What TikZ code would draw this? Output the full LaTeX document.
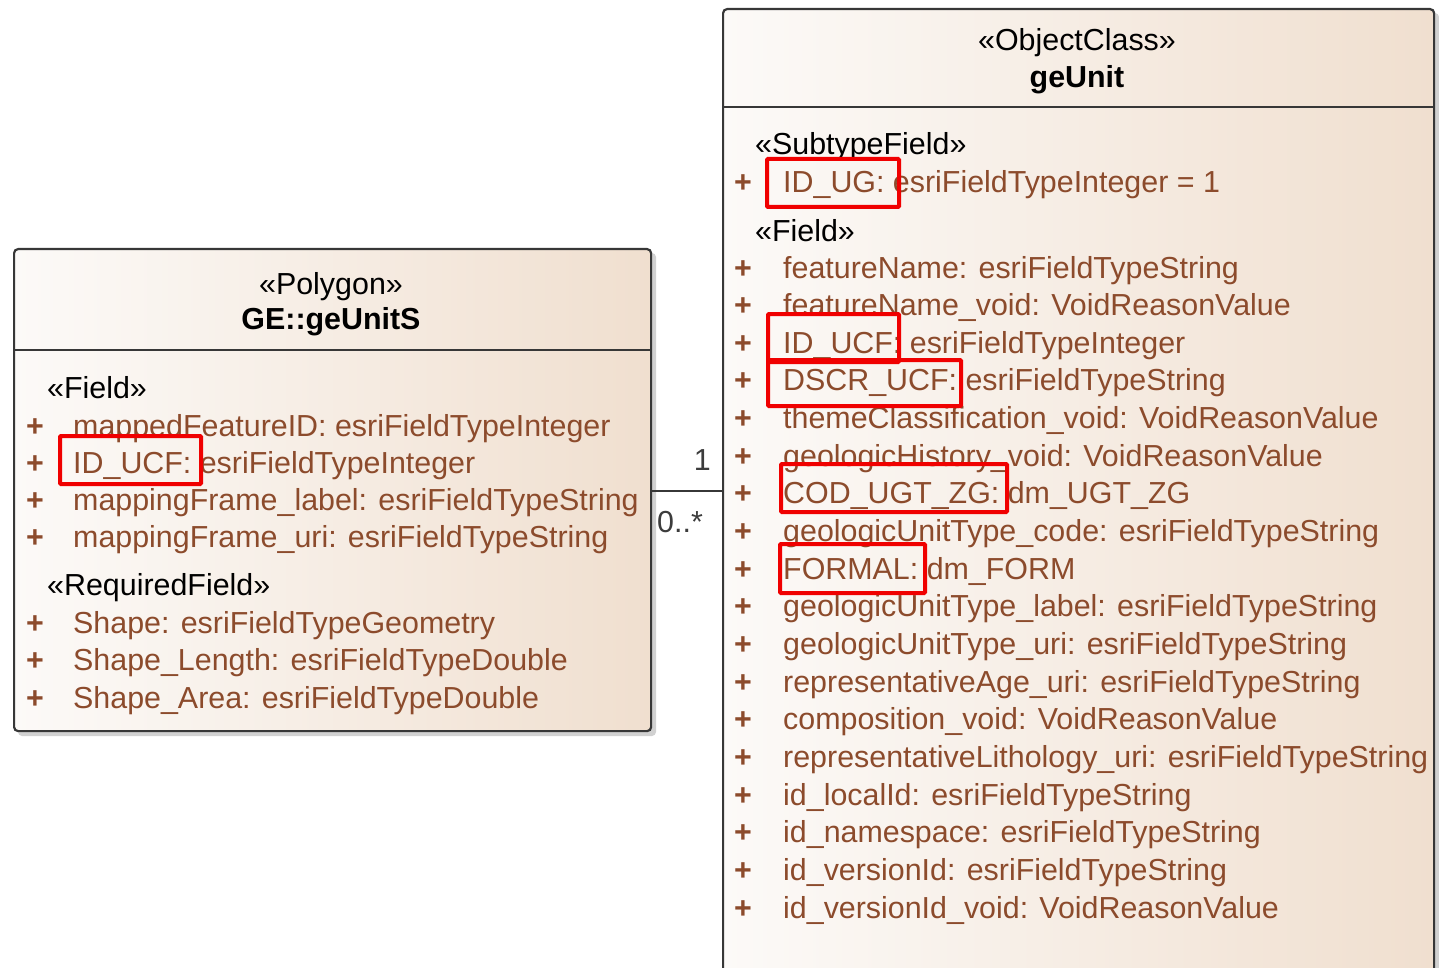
\documentclass[tikz,border=0pt]{standalone}
\usepackage{fontspec}
\setmainfont{Liberation Sans}
\usetikzlibrary{positioning}

\definecolor{attrbrown}{RGB}{140,75,44}
\definecolor{boxline}{RGB}{55,55,55}
\definecolor{boxleft}{RGB}{252,250,248}
\definecolor{boxright}{RGB}{240,223,207}
\definecolor{hilite}{RGB}{240,0,0}
\definecolor{multgray}{RGB}{60,60,60}

\newcommand{\umlfont}{\fontsize{30.4}{37}\selectfont}

\tikzset{
  classbox/.style={draw=boxline, line width=2.2pt, rounded corners=4pt,
    left color=boxleft, right color=boxright, anchor=north west, inner sep=0pt},
  boxshadow/.style={fill=black!18, rounded corners=4pt},
  attr/.style={anchor=base west, text=attrbrown, inner sep=0pt, font=\umlfont},
  plus/.style={anchor=base, text=attrbrown, inner sep=0pt, font=\umlfont\bfseries},
  stereo/.style={anchor=base west, inner sep=0pt, font=\umlfont},
  title/.style={anchor=base, inner sep=0pt, font=\umlfont},
  mult/.style={inner sep=0pt, text=multgray, font=\umlfont},
  redbox/.style={draw=hilite, line width=4pt, rounded corners=1pt}
}

\begin{document}
\begin{tikzpicture}[x=1pt, y=-1pt]
  \useasboundingbox (0,0) rectangle (1439,968);
  \clip (0,0) rectangle (1439,968);

  % shadows
  \fill[boxshadow] (18,253) rectangle (656,736);
  \fill[boxshadow] (727,13) rectangle (1439,1010);

  % class boxes
  \node[classbox, minimum width=637pt, minimum height=482pt] (geunits) at (13,248) {};
  \node[classbox, minimum width=711pt, minimum height=1000pt] (geunit) at (722,8) {};
  \draw[boxline, line width=2.2pt] (geunits.west |- 0,350) -- (geunits.east |- 0,350);
  \draw[boxline, line width=2.2pt] (geunit.west |- 0,107) -- (geunit.east |- 0,107);

  % GE::geUnitS
  \node[title] (lstereo) at (331,294) {«Polygon»};
  \node[title, font=\umlfont\bfseries] (lname) at (331,329) {GE::geUnitS};
  \node[stereo] (lfield) at (47,398) {«Field»};
  \foreach \txt [count=\i] in {mappedFeatureID: esriFieldTypeInteger,
      ID\_UCF: esriFieldTypeInteger, mappingFrame\_label: esriFieldTypeString,
      mappingFrame\_uri: esriFieldTypeString} {
    \node[plus] (lp\i) at (35,{436+37.3*(\i-1)}) {+};
    \node[attr] (la\i) at (73,{436+37.3*(\i-1)}) {\txt};
  }
  \node[stereo] (lreq) at (47,595) {«RequiredField»};
  \foreach \txt [count=\i] in {Shape: esriFieldTypeGeometry,
      Shape\_Length: esriFieldTypeDouble, Shape\_Area: esriFieldTypeDouble} {
    \node[plus] (lq\i) at (35,{633+37.5*(\i-1)}) {+};
    \node[attr] (lr\i) at (73,{633+37.5*(\i-1)}) {\txt};
  }

  % geUnit
  \node[title] (rstereo) at (1077,51) {«ObjectClass»};
  \node[title, font=\umlfont\bfseries] (rname) at (1077,88) {geUnit};
  \node[stereo] (rsub) at (755,155) {«SubtypeField»};
  \node[plus] (rp0) at (743,193) {+};
  \node[attr] (ra0) at (783,193) {ID\_UG: esriFieldTypeInteger = 1};
  \node[stereo] (rfield) at (755,242) {«Field»};
  \foreach \txt [count=\i] in {featureName: esriFieldTypeString,
      featureName\_void: VoidReasonValue, ID\_UCF: esriFieldTypeInteger,
      DSCR\_UCF: esriFieldTypeString, themeClassification\_void: VoidReasonValue,
      geologicHistory\_void: VoidReasonValue, COD\_UGT\_ZG: dm\_UGT\_ZG,
      geologicUnitType\_code: esriFieldTypeString, FORMAL: dm\_FORM,
      geologicUnitType\_label: esriFieldTypeString,
      geologicUnitType\_uri: esriFieldTypeString,
      representativeAge\_uri: esriFieldTypeString,
      composition\_void: VoidReasonValue,
      representativeLithology\_uri: esriFieldTypeString,
      id\_localId: esriFieldTypeString, id\_namespace: esriFieldTypeString,
      id\_versionId: esriFieldTypeString, id\_versionId\_void: VoidReasonValue} {
    \node[plus] (rp\i) at (743,{278+37.65*(\i-1)}) {+};
    \node[attr] (ra\i) at (783,{278+37.65*(\i-1)}) {\txt};
  }

  % association
  \coordinate (assoc) at (686,491);
  \draw[boxline, line width=2pt] (geunits.east |- assoc) -- (geunit.west |- assoc);
  \node[mult, anchor=east] (mone) at (711,460) {1};
  \node[mult, anchor=west] (mmany) at (657,522) {0..*};

  % highlights
  \draw[redbox] (60,436) rectangle (201,484);
  \draw[redbox] (767,159) rectangle (899,207);
  \draw[redbox] (768,314) rectangle (899,362);
  \draw[redbox] (768,360) rectangle (961,406);
  \draw[redbox] (781,464) rectangle (1007,512);
  \draw[redbox] (780,544) rectangle (925,593);
\end{tikzpicture}
\end{document}
